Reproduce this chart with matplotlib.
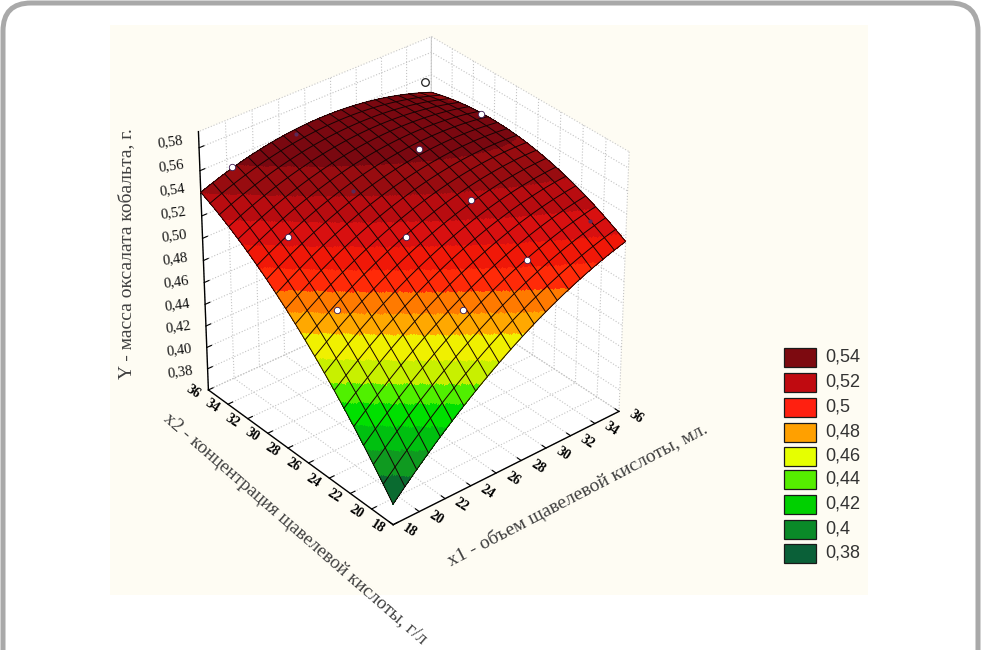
import numpy as np
import matplotlib
matplotlib.use("Agg")
import matplotlib.pyplot as plt
from matplotlib.colors import ListedColormap, BoundaryNorm
from matplotlib.patches import FancyBboxPatch, Rectangle
from matplotlib.ticker import NullFormatter
from mpl_toolkits.mplot3d import proj3d

# ---- data ----
# markers lying on top of the surface
x1_top = [20.25, 25.6, 25.75, 30.6, 30.6, 20.25, 30.85, 35.8, 20.25]
x2_top = [25.9, 20.7, 26.1, 20.7, 25.9, 30.5, 31.0, 31.0, 35.8]
y_top = [.4877, .4926, .5225, .5103, .5315, .523, .5455, .5536, .5536]
# markers hidden under the surface (seen faintly through it)
x1_under = [35.55, 25.9, 25.1]
x2_under = [20.7, 31.3, 35.8]
y_under = [.520, .5306, .5595]
# marker floating above the surface behind the crest
x1_above = [35.3]
x2_above = [35.8]
y_above = [.558]

# heights of the fitted surface read at three levels of each factor
x1_read = [18, 27, 36, 18, 27, 36, 18, 27, 36]
x2_read = [18, 18, 18, 27, 27, 27, 36, 36, 36]
y_read = [.3788, .4672, .5156, .4800, .5352, .5499, .5410, .5625, .5440]

x1_ticks = [18, 20, 22, 24, 26, 28, 30, 32, 34, 36]
x2_ticks = [18, 20, 22, 24, 26, 28, 30, 32, 34, 36]
z_ticks = [.38, .40, .42, .44, .46, .48, .50, .52, .54, .56, .58]
z_labels = ["0,38", "0,40", "0,42", "0,44", "0,46", "0,48", "0,50", "0,52", "0,54", "0,56", "0,58"]

# colour bands seen on the surface
band_edges = [.36, .394, .409, .423, .436, .447, .46, .474, .485, .496, .507, .518, .529, .54, .551, .60]
band_colors = ["#0a6b30", "#0f9a20", "#00c010", "#00e000", "#50f000", "#c8f000", "#f0f000", "#ffa800",
               "#ff7a00", "#ff2a08", "#f01808", "#d81010", "#b80c10", "#980c10", "#7a0810"]

legend_labels = ["0,54", "0,52", "0,5", "0,48", "0,46", "0,44", "0,42", "0,4", "0,38"]
legend_colors = ["#7d0a10", "#c00a10", "#ff2010", "#ffa000", "#e6ff00",
                 "#55ee00", "#00d000", "#0a8a28", "#0a6038"]
legend_y = [357, 382, 407, 432, 456, 479, 504, 529, 553]

# second-order response surface through the read heights
def design(p, q):
    p = (p - 18) / 18; q = (q - 18) / 18
    return np.stack([np.ones_like(p), p, q, p * p, q * q, p * q], -1)
coef, *_ = np.linalg.lstsq(design(np.array(x1_read, float), np.array(x2_read, float)), np.array(y_read), rcond=None)

fine = np.linspace(18, 36, 181)
X, Y = np.meshgrid(fine, fine)
Z = design(X, Y) @ coef

norm = BoundaryNorm(band_edges, len(band_colors))
cmap = ListedColormap(band_colors)

W, H = 981, 650
fig = plt.figure(figsize=(W / 100, H / 100), dpi=100, facecolor="white")

bg = fig.add_axes([0, 0, 1, 1], zorder=-1)
bg.set_xlim(0, W); bg.set_ylim(H, 0); bg.axis("off")
bg.add_patch(FancyBboxPatch((3, 3), 975, 720, boxstyle="round,pad=0,rounding_size=28",
                            fc="white", ec="#a9a9a9", lw=3.6))
bg.add_patch(Rectangle((110, 25), 758, 570, fc="#fefcf3", ec="none"))

ax = fig.add_axes([79 / W, 42 / H, 650 / W, 650 / H], projection="3d", computed_zorder=False, facecolor="none", zorder=1)
ax.patch.set_visible(False)
ax.view_init(elev=33, azim=-129.8)
ax.set_box_aspect((1, 1, 1.034), zoom=.781)
ax.set_xlim(18, 36, view_margin=0); ax.set_ylim(18, 36, view_margin=0); ax.set_zlim(.36, .594, view_margin=0)

for axis in (ax.xaxis, ax.yaxis, ax.zaxis):
    axis.set_pane_color("white")
    axis.pane.set_edgecolor("#c8c8c8")
    axis.pane.set_linewidth(.8)
    axis.pane.set_linestyle(":")
    axis._axinfo["grid"].update(color="#c4c4c4", linewidth=.8, linestyle=":")
    axis.line.set_color("black"); axis.line.set_linewidth(1.0)
    axis._axinfo["tick"].update(inward_factor=0.0, outward_factor=0.25)
    axis.set_major_formatter(NullFormatter())

ax.set_xticks(x1_ticks)
ax.set_yticks(x2_ticks)
ax.set_zticks(z_ticks)

ax.plot_surface(X, Y, Z, rstride=1, cstride=1, facecolors=cmap(norm(Z)), shade=False, linewidth=0, antialiased=False, zorder=2)
ax.plot_wireframe(X, Y, Z, rstride=9, cstride=9, color="#150404", linewidth=.7, zorder=3)
ax.plot(x1_under, x2_under, y_under, "o", ms=3, mfc="#5a2a58", mec="#5a2a58", mew=0, ls="none", zorder=4)
ax.plot(x1_top, x2_top, y_top, "o", ms=4.6, mfc="white", mec="#3a1a50", mew=.6, ls="none", zorder=4)
ax.plot(x1_above, x2_above, y_above, "o", ms=5.5, mfc="white", mec="#222222", mew=.9, ls="none", zorder=1)

ov = fig.add_axes([0, 0, 1, 1], zorder=2)
ov.set_xlim(0, W); ov.set_ylim(H, 0); ov.axis("off"); ov.patch.set_visible(False)

fig.canvas.draw()
M = ax.get_proj()
def to_overlay(x, y, z):
    px, py, _ = proj3d.proj_transform(x, y, z, M)
    return ov.transData.inverted().transform(ax.transData.transform((px, py)))

serif = "Liberation Serif"
tick_style = dict(family=serif, fontsize=10, fontweight="bold", ha="center", va="center", color="black", rotation=-33)
for t in x1_ticks:
    ov.text(*to_overlay(t, 16.5, .365), str(t), **tick_style)
for t in x2_ticks:
    ov.text(*to_overlay(16.8, t, .365), str(t), **tick_style)
for t, lab in zip(z_ticks, z_labels):
    ov.text(*to_overlay(16.9, 37.4, t + .002 + (t - .58) * .04), lab, family=serif, fontsize=10.5, rotation=8, ha="center", va="center", color="#111111")

ov.text(127, 254, "Y - масса оксалата кобальта, г.", rotation=90, ha="center", va="center", family=serif, fontsize=14, color="#404040")
ov.text(295, 529, "x2 - концентрация щавелевой кислоты, г/л", rotation=-41, ha="center", va="center", family=serif, fontsize=13.7, color="#404040", rotation_mode="anchor")
ov.text(578, 495, "x1 - объем щавелевой кислоты, мл.", rotation=27.5, ha="center", va="center", family=serif, fontsize=14, color="#404040", rotation_mode="anchor")

for lab, col, y in zip(legend_labels, legend_colors, legend_y):
    ov.add_patch(Rectangle((784, y - 9.5), 32, 19, fc=col, ec="#1a1a1a", lw=.9))
    ov.text(825, y, lab, va="center", ha="left", family="Liberation Sans", fontsize=13, color="#333333")

fig.savefig("out.png", dpi=100)
